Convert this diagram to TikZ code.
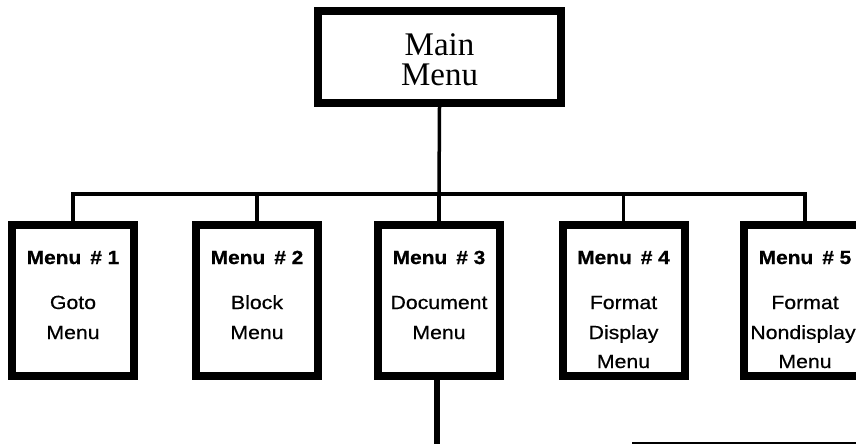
\documentclass[tikz,border=0pt]{standalone}
\usepackage{fontspec}
\setmainfont{Liberation Serif}
\newfontfamily\boxfont[FakeStretch=1.12,FakeBold=0.6]{Liberation Sans}
\newfontfamily\boxbold[FakeStretch=1.1,FakeBold=0.8]{Liberation Sans Bold}
\begin{document}
\begin{tikzpicture}[x=1pt,y=-1pt,
  menubox/.style={draw, line width=8pt, minimum width=122pt, minimum height=151pt, inner sep=0pt},
  mainbox/.style={draw, line width=8pt, minimum width=243pt, minimum height=92pt, inner sep=0pt},
  conn/.style={line width=3.5pt},
  thickconn/.style={line width=6pt},
  hdr/.style={anchor=base, inner sep=0pt, font=\boxbold\fontsize{19}{20}\selectfont},
  txt/.style={anchor=base, inner sep=0pt, font=\boxfont\fontsize{19}{20}\selectfont},
  maintxt/.style={anchor=base, inner sep=0pt, align=center, font=\fontsize{33}{30}\selectfont}
]
\clip (0,0) rectangle (856,444);
\fill[white] (0,0) rectangle (856,444);

% main box
\node[mainbox] (main) at (439.5,57) {};
\node[maintxt] (maintext) at (439.5,85) {Main\\Menu};

% menu boxes
\node[menubox] (b1) at (73,300.5) {};
\node[menubox] (b2) at (257,300.5) {};
\node[menubox] (b3) at (439,300.5) {};
\node[menubox] (b4) at (623.5,300.5) {};
\node[menubox] (b5) at (805,300.5) {};

% texts
\node[hdr] (h1) at (73,264) {Menu\, \# 1};
\node[txt] (t1a) at (73,309) {Goto};
\node[txt] (t1b) at (73,339) {Menu};

\node[hdr] (h2) at (257,264) {Menu\, \# 2};
\node[txt] (t2a) at (257,309) {Block};
\node[txt] (t2b) at (257,339) {Menu};

\node[hdr] (h3) at (439,264) {Menu\, \# 3};
\node[txt] (t3a) at (439,309) {Document};
\node[txt] (t3b) at (439,339) {Menu};

\node[hdr] (h4) at (623.5,264) {Menu\, \# 4};
\node[txt] (t4a) at (623.5,309) {Format};
\node[txt] (t4b) at (623.5,339) {Display};
\node[txt] (t4c) at (623.5,368) {Menu};

\node[hdr] (h5) at (805,264) {Menu\, \# 5};
\node[txt] (t5a) at (805,309) {Format};
\node[txt] (t5b) at (803,339) {Nondisplay};
\node[txt] (t5c) at (805,368) {Menu};

% connectors
\coordinate (bus) at (439,194);
\draw[conn] (main.south) -- (bus);
\draw[conn] (b1.north) |- (bus) -| (b5.north);
\draw[conn] (b2.north) -- (b2.north |- bus);
\draw[conn] (b3.north) -- (b3.north |- bus);
\draw[conn] (b4.north) -- (b4.north |- bus);

\coordinate (down) at (437,444);
\draw[thickconn] (b3.south -| down) -- (down);

% partial line at bottom right
\coordinate (pl) at (632,442.5);
\coordinate (pr) at (856,442.5);
\draw[line width=2pt] (pl) -- (pr);
\end{tikzpicture}
\end{document}
